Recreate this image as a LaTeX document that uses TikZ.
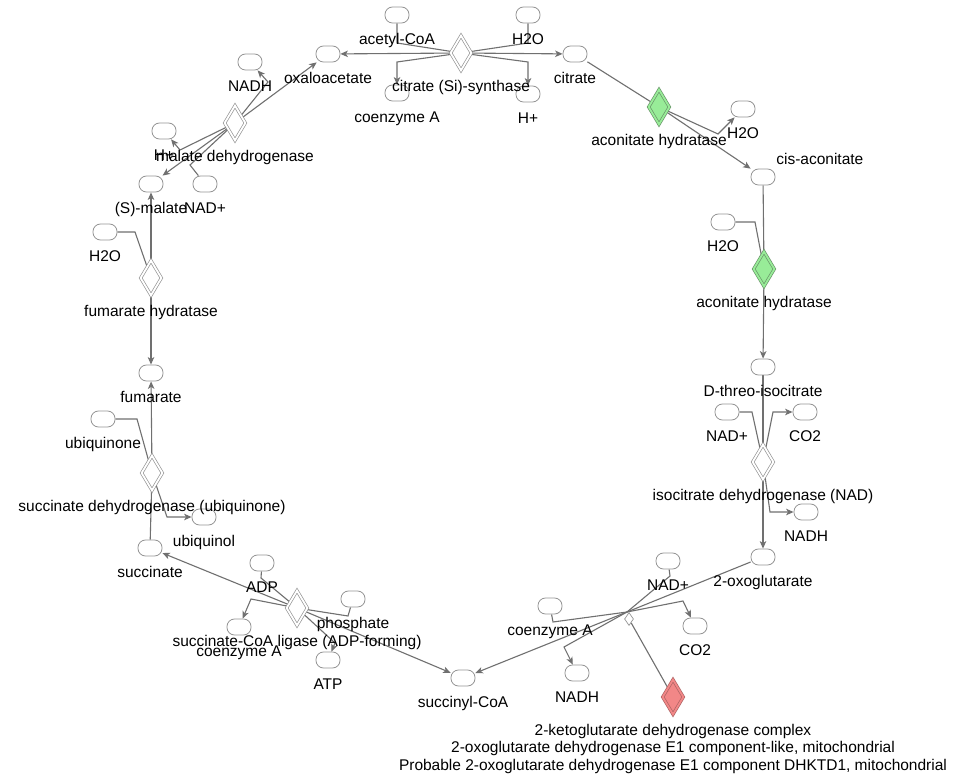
\documentclass[tikz,border=0pt]{standalone}
\usepackage{fontspec}
\setmainfont{Liberation Sans}
\usetikzlibrary{shapes.geometric,arrows.meta}
\definecolor{linegray}{RGB}{112,112,112}
\definecolor{edgegray}{RGB}{150,150,150}
\definecolor{enzgreen}{RGB}{152,236,152}
\definecolor{enzgreenline}{RGB}{105,150,105}
\definecolor{enzred}{RGB}{242,135,135}
\definecolor{enzredline}{RGB}{175,100,100}
\pgfdeclarelayer{bg}
\pgfsetlayers{bg,main}
\begin{document}
\begin{tikzpicture}[x=1pt,y=-1pt,
    mol/.style={draw=edgegray, fill=white, rounded corners=7.5pt, minimum width=24pt, minimum height=16pt, inner sep=0pt, line width=0.8pt},
    lbl/.style={font=\fontsize{15.5}{17.5}\selectfont, inner sep=0pt, text height=11pt, text depth=3pt},
    lblm/.style={text height=, text depth=, align=center},
    enz/.style={diamond, draw=edgegray, double=white, double distance=1.8pt, fill=white, minimum width=21pt, minimum height=35pt, inner sep=0pt, line width=0.7pt},
    enzg/.style={enz, draw=enzgreenline, fill=enzgreen, double=enzgreen},
    enzr/.style={enz, draw=enzredline, fill=enzred, double=enzred},
    rxn/.style={diamond, draw=edgegray, fill=white, minimum width=9pt, minimum height=13pt, inner sep=0pt, line width=0.7pt},
    conn/.style={draw=linegray, line width=1.1pt},
    rx/.style={conn, -{Stealth[length=7.5pt,width=6.5pt,inset=2pt]}},
    label distance=9.5pt, every label/.append style={lbl}]

    \begin{pgfonlayer}{bg}
    \fill[white] (0,0) rectangle (969,775);
    \end{pgfonlayer}
    \useasboundingbox (0,0) rectangle (969,775);

    % citrate synthase
    \node[mol, label=below:acetyl-CoA] (acoa) at (397,15) {};
    \node[mol, label=below:H2O] (h2oA) at (528,15) {};
    \node[mol, label=below:coenzyme A] (coaA) at (397,93) {};
    \node[mol, label=below:H+] (hA) at (528,94) {};
    \node[enz, label=below:citrate (Si)-synthase] (cs) at (461,53) {};
    \node[mol, label=below:oxaloacetate] (oaa) at (328,54) {};
    \node[mol, label=below:citrate] (cit) at (575,54) {};

    % aconitate hydratase
    \node[enzg, label=below:aconitate hydratase] (aco1) at (659,107) {};
    \node[mol, label=below:H2O] (h2oB) at (743,109) {};
    \node[mol, label={[label distance=1pt,xshift=4pt]above right:cis-aconitate}] (cisaco) at (763,177) {};
    \node[mol, label=below:H2O] (h2oC) at (723,222) {};
    \node[enzg, label=below:aconitate hydratase] (aco2) at (764,269) {};
    \node[mol, label=below:D-threo-isocitrate] (icit) at (763,367) {};

    % isocitrate dehydrogenase
    \node[mol, label=below:NAD+] (nadA) at (727,412) {};
    \node[mol, label=below:CO2] (co2A) at (805,412) {};
    \node[enz, label=below:isocitrate dehydrogenase (NAD)] (idh) at (763,462) {};
    \node[mol, label=below:NADH] (nadhA) at (806,512) {};
    \node[mol, label=below:2-oxoglutarate] (akg) at (763,557) {};

    % 2-oxoglutarate dehydrogenase
    \coordinate (r4) at (627,612);
    \node[rxn] (kgdh) at (629,619) {};
    \node[enzr, label={[lblm,label distance=9pt]below:{2-ketoglutarate dehydrogenase complex\\2-oxoglutarate dehydrogenase E1 component-like, mitochondrial\\Probable 2-oxoglutarate dehydrogenase E1 component DHKTD1, mitochondrial}}] (kgdhE) at (673,697) {};
    \node[mol, label=below:NAD+] (nadB) at (668,561) {};
    \node[mol, label=below:CO2] (co2B) at (695,626) {};
    \node[mol, label=below:coenzyme A] (coaB) at (550,606) {};
    \node[mol, label=below:NADH] (nadhB) at (577,673) {};
    \node[mol, label=below:succinyl-CoA] (succoa) at (463,678) {};

    % succinate-CoA ligase
    \node[mol, label=below:ADP] (adp) at (262,563) {};
    \node[mol, label=below:coenzyme A] (coaC) at (239,627) {};
    \node[mol, label=below:phosphate] (pi) at (353,599) {};
    \node[mol, label=below:ATP] (atp) at (328,660) {};
    \node[enz, label=below:succinate-CoA ligase (ADP-forming)] (scs) at (297,608) {};
    \node[mol, label=below:succinate] (succ) at (150,548) {};

    % succinate dehydrogenase
    \node[mol, label=below:ubiquinone] (ubq) at (103,419) {};
    \node[mol, label=below:ubiquinol] (ubqh) at (204,517) {};
    \node[enz, label=below:succinate dehydrogenase (ubiquinone)] (sdh) at (152,473) {};
    \node[mol, label=below:fumarate] (fum) at (151,373) {};

    % fumarate hydratase
    \node[enz, label=below:fumarate hydratase] (fh) at (151,278) {};
    \node[mol, label=below:H2O] (h2oD) at (105,232) {};
    \node[mol, label=below:(S)-malate] (mal) at (151,184) {};

    % malate dehydrogenase
    \node[mol, label=below:NAD+] (nadC) at (205,184) {};
    \node[mol, label=below:H+] (hB) at (164,131) {};
    \node[enz, label=below:malate dehydrogenase] (mdh) at (235,123) {};
    \node[mol, label=below:NADH] (nadhC) at (250,62) {};

    \begin{pgfonlayer}{bg}
    \draw[conn] (acoa) -- (397,43) -- (cs.center);
    \draw[conn] (h2oA) -- (528,43) -- (cs.center);
    \draw[rx] (cs.center) -- (397,62) -- (coaA);
    \draw[rx] (cs.center) -- (528,62) -- (hA);
    \draw[rx] (cs.center) -- (oaa);
    \draw[rx] (cs.center) -- (cit);

    \draw[conn] (cit) -- (aco1.center);
    \draw[rx] (aco1.center) -- (cisaco);
    \draw[rx] (aco1.center) -- (718,134) -- (h2oB);
    \draw[conn] (cisaco) -- (aco2.center);
    \draw[conn] (h2oC) -- (755,222) -- (aco2.center);
    \draw[rx] (aco2.center) -- (icit);

    \draw[conn] (icit) -- (idh.center);
    \draw[conn] (nadA) -- (752,412) -- (idh.center);
    \draw[rx] (idh.center) -- (773,412) -- (co2A);
    \draw[rx] (idh.center) -- (770,512) -- (nadhA);
    \draw[rx] (idh.center) -- (akg);

    \draw[conn] (akg) -- (r4);
    \draw[conn] (nadB) -- (670,576) -- (r4);
    \draw[conn] (coaB) -- (553,622) -- (r4);
    \draw[rx] (r4) -- (683,601) -- (co2B);
    \draw[rx] (r4) -- (564,647) -- (nadhB);
    \draw[rx] (r4) -- (succoa);
    \draw[conn] (kgdh) -- (kgdhE);

    \draw[conn] (adp) -- (261,578) -- (scs.center);
    \draw[conn] (pi) -- (348,616) -- (scs.center);
    \draw[rx] (scs.center) -- (251,599) -- (coaC);
    \draw[rx] (scs.center) -- (335,643) -- (atp);
    \draw[rx] (scs.center) -- (succoa);
    \draw[rx] (scs.center) -- (succ);

    \draw[conn] (succ) -- (sdh.center);
    \draw[conn] (ubq) -- (137,419) -- (sdh.center);
    \draw[rx] (sdh.center) -- (167,517) -- (ubqh);
    \draw[rx] (sdh.center) -- (fum);

    \draw[rx] (fh.center) -- (fum);
    \draw[rx] (fh.center) -- (mal);
    \draw[conn] (h2oD) -- (135,232) -- (fh.center);

    \draw[rx] (mdh.center) -- (mal);
    \draw[conn] (nadC) -- (190,165) -- (mdh.center);
    \draw[rx] (mdh.center) -- (180,150) -- (hB);
    \draw[rx] (mdh.center) -- (268,82) -- (nadhC);
    \draw[rx] (mdh.center) -- (oaa);
    \end{pgfonlayer}
\end{tikzpicture}
\end{document}
